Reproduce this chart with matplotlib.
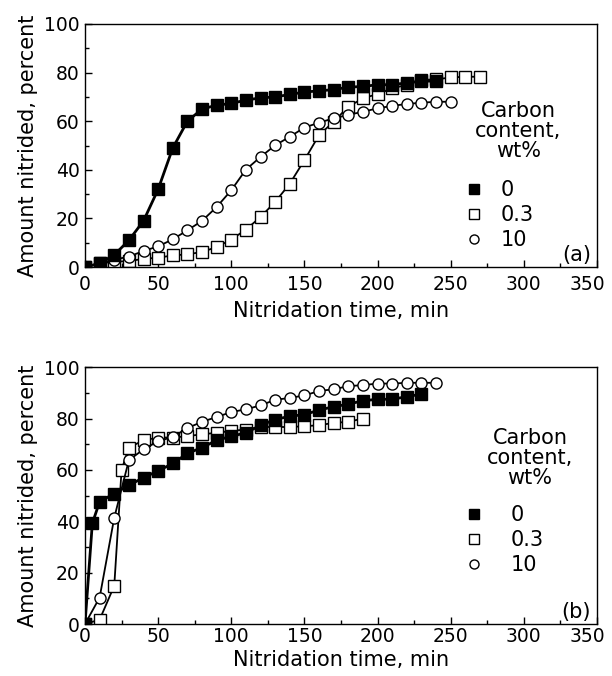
import matplotlib
matplotlib.use('Agg')
import matplotlib.pyplot as plt
import matplotlib.transforms as mtransforms
from matplotlib.lines import Line2D
from matplotlib.ticker import MultipleLocator

plt.rcParams['font.family'] = ['DejaVu Sans']
plt.rcParams['font.size'] = 14

# (a) 数据
a_t0 = [0, 10, 20, 30, 40, 50, 60, 70, 80, 90, 100, 110, 120, 130, 140, 150,
        160, 170, 180, 190, 200, 210, 220, 230, 240]
a_y0 = [0, 1.5, 5, 11, 19, 32, 49, 60, 65, 66.6, 67.3, 68.7, 69.6, 70, 71, 72,
        72.5, 73, 74, 74.3, 75, 75, 75.8, 76.5, 76.5]
a_t03 = [0, 10, 20, 30, 40, 50, 60, 70, 80, 90, 100, 110, 120, 130, 140, 150,
         160, 170, 180, 190, 200, 210, 220, 230, 240, 250, 260, 270]
a_y03 = [0, 1.5, 2.2, 2.4, 3.4, 3.8, 4.8, 5.2, 6.2, 8.2, 11.3, 15.4, 20.6, 26.8,
         34.3, 44, 54.3, 59.8, 66, 69.4, 71.2, 73.5, 75, 77, 77.2, 78, 78.3, 78.3]
a_t10 = [0, 10, 20, 30, 40, 50, 60, 70, 80, 90, 100, 110, 120, 130, 140, 150,
         160, 170, 180, 190, 200, 210, 220, 230, 240, 250]
a_y10 = [0, 1.5, 3, 4.3, 6.6, 8.5, 11.4, 15.1, 19, 24.7, 31.6, 40.1, 45.3, 50.1,
         53.6, 57.4, 59.4, 61.2, 62.6, 63.9, 65.3, 66.3, 67.1, 67.6, 68, 68]

# (b) 数据
b_t0 = [0, 5, 10, 20, 30, 40, 50, 60, 70, 80, 90, 100, 110, 120, 130, 140, 150,
        160, 170, 180, 190, 200, 210, 220, 230]
b_y0 = [0, 39.2, 47.6, 50.8, 54, 57, 59.6, 62.5, 66.4, 68.7, 71.5, 73.1, 74.4,
        77.4, 79.6, 80.9, 81.5, 83.3, 84.6, 85.6, 86.9, 87.5, 87.5, 88.5, 89.5]
b_t03 = [0, 10, 20, 25, 30, 40, 50, 60, 70, 80, 90, 100, 110, 120, 130, 140, 150,
         160, 170, 180, 190]
b_y03 = [0, 1.7, 14.9, 60, 68.7, 71.5, 72.6, 72.6, 73.1, 73.9, 74.4, 75.2, 75.7,
         76.7, 76.7, 76.7, 77, 77.4, 78.3, 78.7, 80]
b_t10 = [0, 10, 20, 30, 40, 50, 60, 70, 80, 90, 100, 110, 120, 130, 140, 150,
         160, 170, 180, 190, 200, 210, 220, 230, 240]
b_y10 = [0, 10.3, 41.4, 63.8, 68, 71.2, 72.8, 76.3, 78.7, 80.6, 82.5, 83.6, 85.1,
         87.3, 88, 89, 90.7, 91.4, 92.6, 93, 93.6, 93.6, 93.9, 93.9, 93.9]

x_ticks = [0, 50, 100, 150, 200, 250, 300, 350]
labels = ['0', '0.3', '10']
legend_title = 'Carbon\ncontent,\nwt%'

fig = plt.figure(figsize=(6.12, 6.76), dpi=100)
ax_a = fig.add_axes([0.1389, 0.605, 0.8366, 0.3595])
ax_b = fig.add_axes([0.1389, 0.0769, 0.8366, 0.380])


def draw(ax, t0, y0, t03, y03, t10, y10, tag, xpad, lpad, title_xy, leg_xy, textpad):
    ax.plot(t03, y03, '-s', color='black', mfc='white', mec='black', ms=8.5, lw=1.3, mew=1.0)
    ax.plot(t10, y10, '-o', color='black', mfc='white', mec='black', ms=8, lw=1.3, mew=1.0)
    ax.plot(t0, y0, '-s', color='black', mfc='black', mec='black', ms=8.5, lw=2.0)
    ax.set_xlim(0, 350)
    ax.set_ylim(0, 100)
    ax.set_xticks(x_ticks, [str(t) for t in x_ticks])
    ax.xaxis.set_minor_locator(MultipleLocator(25))
    ax.yaxis.set_major_locator(MultipleLocator(20))
    ax.yaxis.set_minor_locator(MultipleLocator(10))
    ax.tick_params(which='both', direction='in', top=False, right=False)
    ax.tick_params(which='major', length=5, width=1, labelsize=13.5)
    ax.tick_params(which='minor', length=3, width=1)
    ax.tick_params(axis='x', which='major', pad=xpad)
    ax.tick_params(axis='y', which='major', pad=4)
    for s in ax.spines.values():
        s.set_linewidth(1.0)
    ax.set_xlabel('Nitridation time, min', fontsize=15, labelpad=lpad)
    ax.set_ylabel('Amount nitrided, percent', fontsize=15, labelpad=4)
    ax.text(0.988, 0.008, tag, transform=ax.transAxes, ha='right', va='bottom', fontsize=15)

    # 最右边的 350 往左挪一点，免得出界
    last = ax.xaxis.get_major_ticks()[-1].label1
    last.set_transform(last.get_transform() +
                       mtransforms.ScaledTranslation(-10 / 100, 0, fig.dpi_scale_trans))

    ax.text(title_xy[0], title_xy[1], legend_title, transform=ax.transAxes,
            ha='center', va='top', fontsize=15, linespacing=1.0, multialignment='center')
    handles = [
        Line2D([], [], ls='none', marker='s', mfc='black', mec='black', ms=7),
        Line2D([], [], ls='none', marker='s', mfc='white', mec='black', ms=7),
        Line2D([], [], ls='none', marker='o', mfc='white', mec='black', ms=6.5),
    ]
    ax.legend(handles, labels, loc='upper left', bbox_to_anchor=leg_xy,
              frameon=False, fontsize=15, handlelength=1.0, handletextpad=textpad,
              labelspacing=0.24, borderpad=0, borderaxespad=0)


draw(ax_a, a_t0, a_y0, a_t03, a_y03, a_t10, a_y10, '(a)', 6, 5,
     (0.846, 0.685), (0.740, 0.358), 0.75)
draw(ax_b, b_t0, b_y0, b_t03, b_y03, b_t10, b_y10, '(b)', 2, 3,
     (0.869, 0.765), (0.740, 0.462), 1.25)

fig.savefig('out.png', dpi=100)
